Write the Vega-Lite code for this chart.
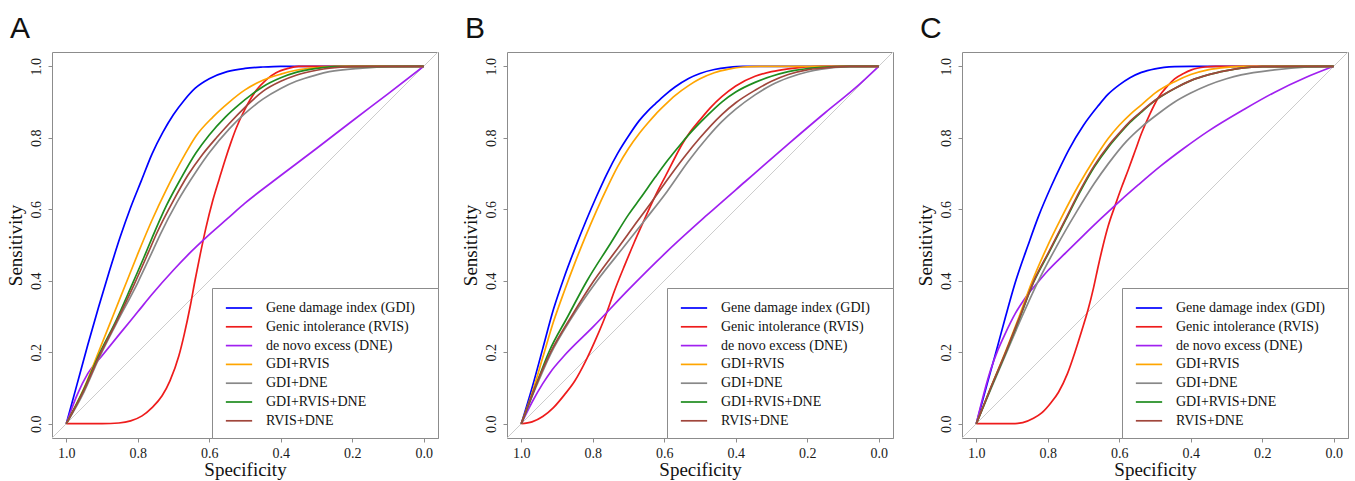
{
"$schema": "https://vega.github.io/schema/vega-lite/v6.json",
"padding": {"left": 5, "top": 13, "right": 5, "bottom": 0},
"background": "white",
"config": {
  "view": {"stroke": "#8c8c8c", "strokeWidth": 1},
  "axis": {"grid": false, "domain": false, "tickColor": "#8c8c8c", "tickSize": 4, "labelFont": "Liberation Serif", "labelFontSize": 14, "labelColor": "#1a1a1a", "titleFont": "Liberation Serif", "titleFontSize": 19, "titleFontWeight": "normal", "titleColor": "#111111"},
  "title": {"font": "Liberation Sans", "fontSize": 30, "fontWeight": "normal", "anchor": "start", "frame": "bounds", "baseline": "alphabetic", "offset": 6, "dx": 4, "color": "#111111"},
  "legend": {"orient": "bottom-right", "offset": 0, "padding": 10, "strokeColor": "#8c8c8c", "fillColor": "white", "symbolType": "M-1.46,0H1.46", "symbolSize": 324, "symbolStrokeWidth": 2.2, "symbolOffset": 7, "labelFont": "Liberation Serif", "labelFontSize": 14, "labelColor": "#111111", "labelOffset": 17, "rowPadding": 1.8, "labelLimit": 400, "titleOrient": "right", "titleOpacity": 0, "titlePadding": 9, "titleFontSize": 14, "titleFont": "Liberation Serif"},
  "concat": {"spacing": 19},
  "line": {"strokeWidth": 1.7}
},
"resolve": {"legend": {"color": "independent"}},
"datasets": {
  "diag": [{"x": 1.04, "y": -0.04}, {"x": -0.04, "y": 1.04}],
  "roc": [
{"p":"A","s":"GDI","x":1,"y":0},{"p":"A","s":"GDI","x":0.97,"y":0.11},{"p":"A","s":"GDI","x":0.94,"y":0.22},{"p":"A","s":"GDI","x":0.91,"y":0.325},{"p":"A","s":"GDI","x":0.88,"y":0.425},{"p":"A","s":"GDI","x":0.85,"y":0.52},{"p":"A","s":"GDI","x":0.82,"y":0.605},{"p":"A","s":"GDI","x":0.79,"y":0.68},{"p":"A","s":"GDI","x":0.76,"y":0.755},{"p":"A","s":"GDI","x":0.73,"y":0.815},{"p":"A","s":"GDI","x":0.7,"y":0.865},{"p":"A","s":"GDI","x":0.67,"y":0.905},{"p":"A","s":"GDI","x":0.64,"y":0.938},{"p":"A","s":"GDI","x":0.6,"y":0.965},{"p":"A","s":"GDI","x":0.55,"y":0.985},{"p":"A","s":"GDI","x":0.5,"y":0.994},{"p":"A","s":"GDI","x":0.45,"y":0.998},{"p":"A","s":"GDI","x":0.4,"y":1},{"p":"A","s":"GDI","x":0,"y":1},
{"p":"A","s":"RVIS","x":1,"y":0},{"p":"A","s":"RVIS","x":0.9,"y":0},{"p":"A","s":"RVIS","x":0.853,"y":0.002},{"p":"A","s":"RVIS","x":0.82,"y":0.008},{"p":"A","s":"RVIS","x":0.788,"y":0.022},{"p":"A","s":"RVIS","x":0.76,"y":0.045},{"p":"A","s":"RVIS","x":0.732,"y":0.078},{"p":"A","s":"RVIS","x":0.71,"y":0.12},{"p":"A","s":"RVIS","x":0.685,"y":0.19},{"p":"A","s":"RVIS","x":0.67,"y":0.25},{"p":"A","s":"RVIS","x":0.653,"y":0.33},{"p":"A","s":"RVIS","x":0.64,"y":0.4},{"p":"A","s":"RVIS","x":0.625,"y":0.475},{"p":"A","s":"RVIS","x":0.61,"y":0.545},{"p":"A","s":"RVIS","x":0.59,"y":0.625},{"p":"A","s":"RVIS","x":0.572,"y":0.685},{"p":"A","s":"RVIS","x":0.555,"y":0.74},{"p":"A","s":"RVIS","x":0.54,"y":0.785},{"p":"A","s":"RVIS","x":0.525,"y":0.826},{"p":"A","s":"RVIS","x":0.5,"y":0.88},{"p":"A","s":"RVIS","x":0.469,"y":0.932},{"p":"A","s":"RVIS","x":0.44,"y":0.963},{"p":"A","s":"RVIS","x":0.413,"y":0.982},{"p":"A","s":"RVIS","x":0.38,"y":0.994},{"p":"A","s":"RVIS","x":0.35,"y":1},{"p":"A","s":"RVIS","x":0,"y":1},
{"p":"A","s":"DNE","x":1,"y":0},{"p":"A","s":"DNE","x":0.97,"y":0.08},{"p":"A","s":"DNE","x":0.94,"y":0.14},{"p":"A","s":"DNE","x":0.9,"y":0.19},{"p":"A","s":"DNE","x":0.85,"y":0.252},{"p":"A","s":"DNE","x":0.8,"y":0.313},{"p":"A","s":"DNE","x":0.76,"y":0.362},{"p":"A","s":"DNE","x":0.7,"y":0.43},{"p":"A","s":"DNE","x":0.65,"y":0.482},{"p":"A","s":"DNE","x":0.61,"y":0.52},{"p":"A","s":"DNE","x":0.55,"y":0.573},{"p":"A","s":"DNE","x":0.5,"y":0.617},{"p":"A","s":"DNE","x":0.423,"y":0.677},{"p":"A","s":"DNE","x":0.3,"y":0.77},{"p":"A","s":"DNE","x":0.2,"y":0.847},{"p":"A","s":"DNE","x":0.1,"y":0.923},{"p":"A","s":"DNE","x":0,"y":1},
{"p":"A","s":"GDI+RVIS","x":1,"y":0},{"p":"A","s":"GDI+RVIS","x":0.95,"y":0.1},{"p":"A","s":"GDI+RVIS","x":0.91,"y":0.2},{"p":"A","s":"GDI+RVIS","x":0.87,"y":0.3},{"p":"A","s":"GDI+RVIS","x":0.83,"y":0.4},{"p":"A","s":"GDI+RVIS","x":0.8,"y":0.475},{"p":"A","s":"GDI+RVIS","x":0.76,"y":0.57},{"p":"A","s":"GDI+RVIS","x":0.72,"y":0.655},{"p":"A","s":"GDI+RVIS","x":0.67,"y":0.75},{"p":"A","s":"GDI+RVIS","x":0.637,"y":0.805},{"p":"A","s":"GDI+RVIS","x":0.59,"y":0.858},{"p":"A","s":"GDI+RVIS","x":0.544,"y":0.9},{"p":"A","s":"GDI+RVIS","x":0.5,"y":0.934},{"p":"A","s":"GDI+RVIS","x":0.45,"y":0.961},{"p":"A","s":"GDI+RVIS","x":0.4,"y":0.978},{"p":"A","s":"GDI+RVIS","x":0.357,"y":0.989},{"p":"A","s":"GDI+RVIS","x":0.3,"y":0.996},{"p":"A","s":"GDI+RVIS","x":0.22,"y":1},{"p":"A","s":"GDI+RVIS","x":0,"y":1},
{"p":"A","s":"GDI+DNE","x":1,"y":0},{"p":"A","s":"GDI+DNE","x":0.95,"y":0.09},{"p":"A","s":"GDI+DNE","x":0.91,"y":0.18},{"p":"A","s":"GDI+DNE","x":0.86,"y":0.28},{"p":"A","s":"GDI+DNE","x":0.8,"y":0.395},{"p":"A","s":"GDI+DNE","x":0.76,"y":0.48},{"p":"A","s":"GDI+DNE","x":0.737,"y":0.53},{"p":"A","s":"GDI+DNE","x":0.69,"y":0.62},{"p":"A","s":"GDI+DNE","x":0.637,"y":0.705},{"p":"A","s":"GDI+DNE","x":0.6,"y":0.758},{"p":"A","s":"GDI+DNE","x":0.544,"y":0.825},{"p":"A","s":"GDI+DNE","x":0.5,"y":0.868},{"p":"A","s":"GDI+DNE","x":0.45,"y":0.908},{"p":"A","s":"GDI+DNE","x":0.4,"y":0.938},{"p":"A","s":"GDI+DNE","x":0.357,"y":0.958},{"p":"A","s":"GDI+DNE","x":0.3,"y":0.976},{"p":"A","s":"GDI+DNE","x":0.264,"y":0.985},{"p":"A","s":"GDI+DNE","x":0.171,"y":0.995},{"p":"A","s":"GDI+DNE","x":0.1,"y":0.999},{"p":"A","s":"GDI+DNE","x":0,"y":1},
{"p":"A","s":"GDI+RVIS+DNE","x":1,"y":0},{"p":"A","s":"GDI+RVIS+DNE","x":0.95,"y":0.098},{"p":"A","s":"GDI+RVIS+DNE","x":0.91,"y":0.19},{"p":"A","s":"GDI+RVIS+DNE","x":0.86,"y":0.29},{"p":"A","s":"GDI+RVIS+DNE","x":0.82,"y":0.38},{"p":"A","s":"GDI+RVIS+DNE","x":0.783,"y":0.465},{"p":"A","s":"GDI+RVIS+DNE","x":0.76,"y":0.52},{"p":"A","s":"GDI+RVIS+DNE","x":0.72,"y":0.61},{"p":"A","s":"GDI+RVIS+DNE","x":0.68,"y":0.685},{"p":"A","s":"GDI+RVIS+DNE","x":0.637,"y":0.758},{"p":"A","s":"GDI+RVIS+DNE","x":0.6,"y":0.808},{"p":"A","s":"GDI+RVIS+DNE","x":0.555,"y":0.858},{"p":"A","s":"GDI+RVIS+DNE","x":0.52,"y":0.89},{"p":"A","s":"GDI+RVIS+DNE","x":0.48,"y":0.922},{"p":"A","s":"GDI+RVIS+DNE","x":0.45,"y":0.943},{"p":"A","s":"GDI+RVIS+DNE","x":0.4,"y":0.968},{"p":"A","s":"GDI+RVIS+DNE","x":0.357,"y":0.983},{"p":"A","s":"GDI+RVIS+DNE","x":0.3,"y":0.994},{"p":"A","s":"GDI+RVIS+DNE","x":0.25,"y":0.999},{"p":"A","s":"GDI+RVIS+DNE","x":0,"y":1},
{"p":"A","s":"RVIS+DNE","x":1,"y":0},{"p":"A","s":"RVIS+DNE","x":0.95,"y":0.095},{"p":"A","s":"RVIS+DNE","x":0.91,"y":0.185},{"p":"A","s":"RVIS+DNE","x":0.86,"y":0.285},{"p":"A","s":"RVIS+DNE","x":0.81,"y":0.39},{"p":"A","s":"RVIS+DNE","x":0.77,"y":0.48},{"p":"A","s":"RVIS+DNE","x":0.746,"y":0.535},{"p":"A","s":"RVIS+DNE","x":0.7,"y":0.625},{"p":"A","s":"RVIS+DNE","x":0.66,"y":0.695},{"p":"A","s":"RVIS+DNE","x":0.62,"y":0.752},{"p":"A","s":"RVIS+DNE","x":0.58,"y":0.8},{"p":"A","s":"RVIS+DNE","x":0.544,"y":0.84},{"p":"A","s":"RVIS+DNE","x":0.5,"y":0.885},{"p":"A","s":"RVIS+DNE","x":0.45,"y":0.93},{"p":"A","s":"RVIS+DNE","x":0.4,"y":0.958},{"p":"A","s":"RVIS+DNE","x":0.357,"y":0.975},{"p":"A","s":"RVIS+DNE","x":0.3,"y":0.989},{"p":"A","s":"RVIS+DNE","x":0.264,"y":0.995},{"p":"A","s":"RVIS+DNE","x":0.2,"y":0.999},{"p":"A","s":"RVIS+DNE","x":0,"y":1},

{"p":"B","s":"GDI","x":1,"y":0},{"p":"B","s":"GDI","x":0.97,"y":0.1},{"p":"B","s":"GDI","x":0.94,"y":0.21},{"p":"B","s":"GDI","x":0.91,"y":0.32},{"p":"B","s":"GDI","x":0.88,"y":0.41},{"p":"B","s":"GDI","x":0.85,"y":0.49},{"p":"B","s":"GDI","x":0.82,"y":0.565},{"p":"B","s":"GDI","x":0.79,"y":0.635},{"p":"B","s":"GDI","x":0.76,"y":0.7},{"p":"B","s":"GDI","x":0.73,"y":0.757},{"p":"B","s":"GDI","x":0.7,"y":0.805},{"p":"B","s":"GDI","x":0.67,"y":0.848},{"p":"B","s":"GDI","x":0.647,"y":0.874},{"p":"B","s":"GDI","x":0.625,"y":0.895},{"p":"B","s":"GDI","x":0.6,"y":0.918},{"p":"B","s":"GDI","x":0.57,"y":0.942},{"p":"B","s":"GDI","x":0.532,"y":0.966},{"p":"B","s":"GDI","x":0.5,"y":0.98},{"p":"B","s":"GDI","x":0.46,"y":0.991},{"p":"B","s":"GDI","x":0.42,"y":0.997},{"p":"B","s":"GDI","x":0.38,"y":1},{"p":"B","s":"GDI","x":0,"y":1},
{"p":"B","s":"RVIS","x":1,"y":0},{"p":"B","s":"RVIS","x":0.97,"y":0.005},{"p":"B","s":"RVIS","x":0.94,"y":0.02},{"p":"B","s":"RVIS","x":0.91,"y":0.045},{"p":"B","s":"RVIS","x":0.88,"y":0.08},{"p":"B","s":"RVIS","x":0.85,"y":0.12},{"p":"B","s":"RVIS","x":0.82,"y":0.175},{"p":"B","s":"RVIS","x":0.79,"y":0.24},{"p":"B","s":"RVIS","x":0.765,"y":0.3},{"p":"B","s":"RVIS","x":0.74,"y":0.37},{"p":"B","s":"RVIS","x":0.71,"y":0.445},{"p":"B","s":"RVIS","x":0.685,"y":0.505},{"p":"B","s":"RVIS","x":0.657,"y":0.568},{"p":"B","s":"RVIS","x":0.638,"y":0.61},{"p":"B","s":"RVIS","x":0.62,"y":0.648},{"p":"B","s":"RVIS","x":0.597,"y":0.692},{"p":"B","s":"RVIS","x":0.575,"y":0.735},{"p":"B","s":"RVIS","x":0.55,"y":0.782},{"p":"B","s":"RVIS","x":0.532,"y":0.81},{"p":"B","s":"RVIS","x":0.5,"y":0.85},{"p":"B","s":"RVIS","x":0.47,"y":0.885},{"p":"B","s":"RVIS","x":0.439,"y":0.915},{"p":"B","s":"RVIS","x":0.4,"y":0.945},{"p":"B","s":"RVIS","x":0.346,"y":0.972},{"p":"B","s":"RVIS","x":0.3,"y":0.985},{"p":"B","s":"RVIS","x":0.253,"y":0.993},{"p":"B","s":"RVIS","x":0.16,"y":1},{"p":"B","s":"RVIS","x":0,"y":1},
{"p":"B","s":"DNE","x":1,"y":0},{"p":"B","s":"DNE","x":0.97,"y":0.06},{"p":"B","s":"DNE","x":0.94,"y":0.112},{"p":"B","s":"DNE","x":0.918,"y":0.145},{"p":"B","s":"DNE","x":0.88,"y":0.19},{"p":"B","s":"DNE","x":0.8,"y":0.27},{"p":"B","s":"DNE","x":0.7,"y":0.375},{"p":"B","s":"DNE","x":0.592,"y":0.482},{"p":"B","s":"DNE","x":0.48,"y":0.584},{"p":"B","s":"DNE","x":0.374,"y":0.677},{"p":"B","s":"DNE","x":0.25,"y":0.785},{"p":"B","s":"DNE","x":0.15,"y":0.87},{"p":"B","s":"DNE","x":0.067,"y":0.938},{"p":"B","s":"DNE","x":0,"y":1},
{"p":"B","s":"GDI+RVIS","x":1,"y":0},{"p":"B","s":"GDI+RVIS","x":0.97,"y":0.085},{"p":"B","s":"GDI+RVIS","x":0.94,"y":0.185},{"p":"B","s":"GDI+RVIS","x":0.91,"y":0.285},{"p":"B","s":"GDI+RVIS","x":0.88,"y":0.37},{"p":"B","s":"GDI+RVIS","x":0.85,"y":0.45},{"p":"B","s":"GDI+RVIS","x":0.82,"y":0.525},{"p":"B","s":"GDI+RVIS","x":0.79,"y":0.595},{"p":"B","s":"GDI+RVIS","x":0.76,"y":0.66},{"p":"B","s":"GDI+RVIS","x":0.73,"y":0.72},{"p":"B","s":"GDI+RVIS","x":0.7,"y":0.77},{"p":"B","s":"GDI+RVIS","x":0.67,"y":0.812},{"p":"B","s":"GDI+RVIS","x":0.647,"y":0.84},{"p":"B","s":"GDI+RVIS","x":0.625,"y":0.865},{"p":"B","s":"GDI+RVIS","x":0.6,"y":0.89},{"p":"B","s":"GDI+RVIS","x":0.57,"y":0.918},{"p":"B","s":"GDI+RVIS","x":0.532,"y":0.946},{"p":"B","s":"GDI+RVIS","x":0.5,"y":0.965},{"p":"B","s":"GDI+RVIS","x":0.46,"y":0.982},{"p":"B","s":"GDI+RVIS","x":0.42,"y":0.992},{"p":"B","s":"GDI+RVIS","x":0.38,"y":0.998},{"p":"B","s":"GDI+RVIS","x":0.33,"y":1},{"p":"B","s":"GDI+RVIS","x":0,"y":1},
{"p":"B","s":"GDI+DNE","x":1,"y":0},{"p":"B","s":"GDI+DNE","x":0.96,"y":0.1},{"p":"B","s":"GDI+DNE","x":0.918,"y":0.195},{"p":"B","s":"GDI+DNE","x":0.86,"y":0.295},{"p":"B","s":"GDI+DNE","x":0.788,"y":0.4},{"p":"B","s":"GDI+DNE","x":0.713,"y":0.495},{"p":"B","s":"GDI+DNE","x":0.65,"y":0.575},{"p":"B","s":"GDI+DNE","x":0.592,"y":0.65},{"p":"B","s":"GDI+DNE","x":0.532,"y":0.735},{"p":"B","s":"GDI+DNE","x":0.48,"y":0.8},{"p":"B","s":"GDI+DNE","x":0.439,"y":0.845},{"p":"B","s":"GDI+DNE","x":0.4,"y":0.88},{"p":"B","s":"GDI+DNE","x":0.346,"y":0.92},{"p":"B","s":"GDI+DNE","x":0.3,"y":0.948},{"p":"B","s":"GDI+DNE","x":0.253,"y":0.968},{"p":"B","s":"GDI+DNE","x":0.2,"y":0.984},{"p":"B","s":"GDI+DNE","x":0.16,"y":0.992},{"p":"B","s":"GDI+DNE","x":0.08,"y":0.999},{"p":"B","s":"GDI+DNE","x":0,"y":1},
{"p":"B","s":"GDI+RVIS+DNE","x":1,"y":0},{"p":"B","s":"GDI+RVIS+DNE","x":0.96,"y":0.105},{"p":"B","s":"GDI+RVIS+DNE","x":0.923,"y":0.2},{"p":"B","s":"GDI+RVIS+DNE","x":0.87,"y":0.3},{"p":"B","s":"GDI+RVIS+DNE","x":0.816,"y":0.4},{"p":"B","s":"GDI+RVIS+DNE","x":0.75,"y":0.505},{"p":"B","s":"GDI+RVIS+DNE","x":0.7,"y":0.585},{"p":"B","s":"GDI+RVIS+DNE","x":0.666,"y":0.632},{"p":"B","s":"GDI+RVIS+DNE","x":0.625,"y":0.69},{"p":"B","s":"GDI+RVIS+DNE","x":0.592,"y":0.735},{"p":"B","s":"GDI+RVIS+DNE","x":0.55,"y":0.787},{"p":"B","s":"GDI+RVIS+DNE","x":0.532,"y":0.808},{"p":"B","s":"GDI+RVIS+DNE","x":0.48,"y":0.862},{"p":"B","s":"GDI+RVIS+DNE","x":0.439,"y":0.9},{"p":"B","s":"GDI+RVIS+DNE","x":0.4,"y":0.928},{"p":"B","s":"GDI+RVIS+DNE","x":0.346,"y":0.955},{"p":"B","s":"GDI+RVIS+DNE","x":0.3,"y":0.972},{"p":"B","s":"GDI+RVIS+DNE","x":0.253,"y":0.985},{"p":"B","s":"GDI+RVIS+DNE","x":0.16,"y":0.997},{"p":"B","s":"GDI+RVIS+DNE","x":0.08,"y":1},{"p":"B","s":"GDI+RVIS+DNE","x":0,"y":1},
{"p":"B","s":"RVIS+DNE","x":1,"y":0},{"p":"B","s":"RVIS+DNE","x":0.96,"y":0.105},{"p":"B","s":"RVIS+DNE","x":0.918,"y":0.2},{"p":"B","s":"RVIS+DNE","x":0.86,"y":0.3},{"p":"B","s":"RVIS+DNE","x":0.797,"y":0.4},{"p":"B","s":"RVIS+DNE","x":0.727,"y":0.495},{"p":"B","s":"RVIS+DNE","x":0.68,"y":0.56},{"p":"B","s":"RVIS+DNE","x":0.638,"y":0.617},{"p":"B","s":"RVIS+DNE","x":0.597,"y":0.675},{"p":"B","s":"RVIS+DNE","x":0.545,"y":0.745},{"p":"B","s":"RVIS+DNE","x":0.5,"y":0.8},{"p":"B","s":"RVIS+DNE","x":0.439,"y":0.865},{"p":"B","s":"RVIS+DNE","x":0.4,"y":0.898},{"p":"B","s":"RVIS+DNE","x":0.346,"y":0.933},{"p":"B","s":"RVIS+DNE","x":0.3,"y":0.958},{"p":"B","s":"RVIS+DNE","x":0.253,"y":0.977},{"p":"B","s":"RVIS+DNE","x":0.2,"y":0.99},{"p":"B","s":"RVIS+DNE","x":0.16,"y":0.995},{"p":"B","s":"RVIS+DNE","x":0.08,"y":1},{"p":"B","s":"RVIS+DNE","x":0,"y":1},

{"p":"C","s":"GDI","x":1,"y":0},{"p":"C","s":"GDI","x":0.97,"y":0.11},{"p":"C","s":"GDI","x":0.945,"y":0.2},{"p":"C","s":"GDI","x":0.918,"y":0.3},{"p":"C","s":"GDI","x":0.891,"y":0.395},{"p":"C","s":"GDI","x":0.855,"y":0.5},{"p":"C","s":"GDI","x":0.826,"y":0.58},{"p":"C","s":"GDI","x":0.79,"y":0.665},{"p":"C","s":"GDI","x":0.762,"y":0.725},{"p":"C","s":"GDI","x":0.742,"y":0.765},{"p":"C","s":"GDI","x":0.7,"y":0.835},{"p":"C","s":"GDI","x":0.66,"y":0.888},{"p":"C","s":"GDI","x":0.631,"y":0.922},{"p":"C","s":"GDI","x":0.6,"y":0.948},{"p":"C","s":"GDI","x":0.57,"y":0.968},{"p":"C","s":"GDI","x":0.538,"y":0.983},{"p":"C","s":"GDI","x":0.5,"y":0.993},{"p":"C","s":"GDI","x":0.445,"y":0.999},{"p":"C","s":"GDI","x":0.4,"y":1},{"p":"C","s":"GDI","x":0,"y":1},
{"p":"C","s":"RVIS","x":1,"y":0},{"p":"C","s":"RVIS","x":0.9,"y":0},{"p":"C","s":"RVIS","x":0.87,"y":0.003},{"p":"C","s":"RVIS","x":0.84,"y":0.015},{"p":"C","s":"RVIS","x":0.817,"y":0.03},{"p":"C","s":"RVIS","x":0.79,"y":0.06},{"p":"C","s":"RVIS","x":0.77,"y":0.088},{"p":"C","s":"RVIS","x":0.745,"y":0.14},{"p":"C","s":"RVIS","x":0.724,"y":0.2},{"p":"C","s":"RVIS","x":0.705,"y":0.26},{"p":"C","s":"RVIS","x":0.687,"y":0.32},{"p":"C","s":"RVIS","x":0.672,"y":0.38},{"p":"C","s":"RVIS","x":0.659,"y":0.44},{"p":"C","s":"RVIS","x":0.645,"y":0.5},{"p":"C","s":"RVIS","x":0.631,"y":0.553},{"p":"C","s":"RVIS","x":0.61,"y":0.615},{"p":"C","s":"RVIS","x":0.594,"y":0.66},{"p":"C","s":"RVIS","x":0.575,"y":0.71},{"p":"C","s":"RVIS","x":0.555,"y":0.765},{"p":"C","s":"RVIS","x":0.538,"y":0.812},{"p":"C","s":"RVIS","x":0.515,"y":0.865},{"p":"C","s":"RVIS","x":0.491,"y":0.912},{"p":"C","s":"RVIS","x":0.465,"y":0.945},{"p":"C","s":"RVIS","x":0.445,"y":0.965},{"p":"C","s":"RVIS","x":0.42,"y":0.98},{"p":"C","s":"RVIS","x":0.398,"y":0.99},{"p":"C","s":"RVIS","x":0.36,"y":0.998},{"p":"C","s":"RVIS","x":0.33,"y":1},{"p":"C","s":"RVIS","x":0,"y":1},
{"p":"C","s":"DNE","x":1,"y":0},{"p":"C","s":"DNE","x":0.98,"y":0.08},{"p":"C","s":"DNE","x":0.96,"y":0.15},{"p":"C","s":"DNE","x":0.94,"y":0.205},{"p":"C","s":"DNE","x":0.92,"y":0.25},{"p":"C","s":"DNE","x":0.89,"y":0.31},{"p":"C","s":"DNE","x":0.863,"y":0.352},{"p":"C","s":"DNE","x":0.83,"y":0.393},{"p":"C","s":"DNE","x":0.8,"y":0.428},{"p":"C","s":"DNE","x":0.75,"y":0.478},{"p":"C","s":"DNE","x":0.7,"y":0.527},{"p":"C","s":"DNE","x":0.65,"y":0.575},{"p":"C","s":"DNE","x":0.596,"y":0.625},{"p":"C","s":"DNE","x":0.547,"y":0.668},{"p":"C","s":"DNE","x":0.483,"y":0.722},{"p":"C","s":"DNE","x":0.42,"y":0.77},{"p":"C","s":"DNE","x":0.352,"y":0.818},{"p":"C","s":"DNE","x":0.25,"y":0.88},{"p":"C","s":"DNE","x":0.166,"y":0.927},{"p":"C","s":"DNE","x":0.08,"y":0.968},{"p":"C","s":"DNE","x":0,"y":1},
{"p":"C","s":"GDI+RVIS","x":1,"y":0},{"p":"C","s":"GDI+RVIS","x":0.96,"y":0.1},{"p":"C","s":"GDI+RVIS","x":0.919,"y":0.2},{"p":"C","s":"GDI+RVIS","x":0.88,"y":0.3},{"p":"C","s":"GDI+RVIS","x":0.845,"y":0.395},{"p":"C","s":"GDI+RVIS","x":0.804,"y":0.49},{"p":"C","s":"GDI+RVIS","x":0.76,"y":0.58},{"p":"C","s":"GDI+RVIS","x":0.715,"y":0.665},{"p":"C","s":"GDI+RVIS","x":0.67,"y":0.74},{"p":"C","s":"GDI+RVIS","x":0.631,"y":0.798},{"p":"C","s":"GDI+RVIS","x":0.6,"y":0.835},{"p":"C","s":"GDI+RVIS","x":0.57,"y":0.865},{"p":"C","s":"GDI+RVIS","x":0.538,"y":0.892},{"p":"C","s":"GDI+RVIS","x":0.5,"y":0.925},{"p":"C","s":"GDI+RVIS","x":0.445,"y":0.957},{"p":"C","s":"GDI+RVIS","x":0.4,"y":0.977},{"p":"C","s":"GDI+RVIS","x":0.352,"y":0.99},{"p":"C","s":"GDI+RVIS","x":0.3,"y":0.997},{"p":"C","s":"GDI+RVIS","x":0.25,"y":1},{"p":"C","s":"GDI+RVIS","x":0,"y":1},
{"p":"C","s":"GDI+DNE","x":1,"y":0},{"p":"C","s":"GDI+DNE","x":0.96,"y":0.095},{"p":"C","s":"GDI+DNE","x":0.915,"y":0.2},{"p":"C","s":"GDI+DNE","x":0.872,"y":0.3},{"p":"C","s":"GDI+DNE","x":0.831,"y":0.39},{"p":"C","s":"GDI+DNE","x":0.776,"y":0.495},{"p":"C","s":"GDI+DNE","x":0.72,"y":0.592},{"p":"C","s":"GDI+DNE","x":0.67,"y":0.672},{"p":"C","s":"GDI+DNE","x":0.631,"y":0.727},{"p":"C","s":"GDI+DNE","x":0.58,"y":0.79},{"p":"C","s":"GDI+DNE","x":0.538,"y":0.83},{"p":"C","s":"GDI+DNE","x":0.49,"y":0.868},{"p":"C","s":"GDI+DNE","x":0.445,"y":0.9},{"p":"C","s":"GDI+DNE","x":0.4,"y":0.925},{"p":"C","s":"GDI+DNE","x":0.352,"y":0.947},{"p":"C","s":"GDI+DNE","x":0.3,"y":0.965},{"p":"C","s":"GDI+DNE","x":0.259,"y":0.976},{"p":"C","s":"GDI+DNE","x":0.166,"y":0.99},{"p":"C","s":"GDI+DNE","x":0.073,"y":0.998},{"p":"C","s":"GDI+DNE","x":0,"y":1},
{"p":"C","s":"GDI+RVIS+DNE","x":1,"y":0},{"p":"C","s":"GDI+RVIS+DNE","x":0.96,"y":0.098},{"p":"C","s":"GDI+RVIS+DNE","x":0.917,"y":0.2},{"p":"C","s":"GDI+RVIS+DNE","x":0.877,"y":0.3},{"p":"C","s":"GDI+RVIS+DNE","x":0.84,"y":0.395},{"p":"C","s":"GDI+RVIS+DNE","x":0.795,"y":0.482},{"p":"C","s":"GDI+RVIS+DNE","x":0.75,"y":0.57},{"p":"C","s":"GDI+RVIS+DNE","x":0.71,"y":0.648},{"p":"C","s":"GDI+RVIS+DNE","x":0.67,"y":0.718},{"p":"C","s":"GDI+RVIS+DNE","x":0.631,"y":0.773},{"p":"C","s":"GDI+RVIS+DNE","x":0.6,"y":0.81},{"p":"C","s":"GDI+RVIS+DNE","x":0.57,"y":0.843},{"p":"C","s":"GDI+RVIS+DNE","x":0.538,"y":0.872},{"p":"C","s":"GDI+RVIS+DNE","x":0.5,"y":0.904},{"p":"C","s":"GDI+RVIS+DNE","x":0.445,"y":0.938},{"p":"C","s":"GDI+RVIS+DNE","x":0.4,"y":0.96},{"p":"C","s":"GDI+RVIS+DNE","x":0.352,"y":0.976},{"p":"C","s":"GDI+RVIS+DNE","x":0.3,"y":0.988},{"p":"C","s":"GDI+RVIS+DNE","x":0.259,"y":0.995},{"p":"C","s":"GDI+RVIS+DNE","x":0.2,"y":0.999},{"p":"C","s":"GDI+RVIS+DNE","x":0,"y":1},
{"p":"C","s":"RVIS+DNE","x":1,"y":0},{"p":"C","s":"RVIS+DNE","x":0.96,"y":0.1},{"p":"C","s":"RVIS+DNE","x":0.917,"y":0.202},{"p":"C","s":"RVIS+DNE","x":0.877,"y":0.302},{"p":"C","s":"RVIS+DNE","x":0.84,"y":0.397},{"p":"C","s":"RVIS+DNE","x":0.795,"y":0.485},{"p":"C","s":"RVIS+DNE","x":0.75,"y":0.573},{"p":"C","s":"RVIS+DNE","x":0.71,"y":0.652},{"p":"C","s":"RVIS+DNE","x":0.67,"y":0.722},{"p":"C","s":"RVIS+DNE","x":0.631,"y":0.777},{"p":"C","s":"RVIS+DNE","x":0.6,"y":0.813},{"p":"C","s":"RVIS+DNE","x":0.57,"y":0.846},{"p":"C","s":"RVIS+DNE","x":0.538,"y":0.874},{"p":"C","s":"RVIS+DNE","x":0.5,"y":0.905},{"p":"C","s":"RVIS+DNE","x":0.445,"y":0.938},{"p":"C","s":"RVIS+DNE","x":0.4,"y":0.96},{"p":"C","s":"RVIS+DNE","x":0.352,"y":0.976},{"p":"C","s":"RVIS+DNE","x":0.3,"y":0.988},{"p":"C","s":"RVIS+DNE","x":0.259,"y":0.995},{"p":"C","s":"RVIS+DNE","x":0.2,"y":0.999},{"p":"C","s":"RVIS+DNE","x":0,"y":1}
  ]
},
"hconcat": [
  {"title": "A", "width": 386, "height": 386,
   "layer": [
    {"data": {"name": "diag"}, "mark": {"type": "line", "color": "#cccccc", "strokeWidth": 1},
     "encoding": {
       "x": {"field": "x", "type": "quantitative", "title": "Specificity", "scale": {"domain": [-0.04, 1.04], "reverse": true, "nice": false, "zero": false}, "axis": {"values": [0, 0.2, 0.4, 0.6, 0.8, 1], "format": ".1f", "labelPadding": 4, "titlePadding": 0, "labelFlush": false}},
       "y": {"field": "y", "type": "quantitative", "title": "Sensitivity", "scale": {"domain": [-0.04, 1.04], "nice": false, "zero": false}, "axis": {"values": [0, 0.2, 0.4, 0.6, 0.8, 1], "format": ".1f", "labelAngle": -90, "labelAlign": "center", "labelBaseline": "alphabetic", "labelPadding": 8, "titlePadding": 4, "labelFlush": false}}
     }},
    {"data": {"name": "roc"}, "transform": [{"filter": "datum.p === 'A'"}],
     "mark": {"type": "line", "interpolate": "monotone", "strokeWidth": 1.7},
     "encoding": {
       "x": {"field": "x", "type": "quantitative"},
       "y": {"field": "y", "type": "quantitative"},
       "color": {"field": "s", "type": "nominal",
         "scale": {"domain": ["GDI", "RVIS", "DNE", "GDI+RVIS", "GDI+DNE", "GDI+RVIS+DNE", "RVIS+DNE"], "range": ["#0000ff", "#ee1c1c", "#a020f0", "#ffa500", "#888888", "#1e8c1e", "#a0463c"]},
         "legend": {"title": "|", "labelFont": "Liberation Serif", "labelFontSize": 14, "labelExpr": "datum.label == 'GDI' ? 'Gene damage index (GDI)' : datum.label == 'RVIS' ? 'Genic intolerance (RVIS)' : datum.label == 'DNE' ? 'de novo excess (DNE)' : datum.label"}}
     }}
   ]},
  {"title": "B", "width": 386, "height": 386,
   "layer": [
    {"data": {"name": "diag"}, "mark": {"type": "line", "color": "#cccccc", "strokeWidth": 1},
     "encoding": {
       "x": {"field": "x", "type": "quantitative", "title": "Specificity", "scale": {"domain": [-0.04, 1.04], "reverse": true, "nice": false, "zero": false}, "axis": {"values": [0, 0.2, 0.4, 0.6, 0.8, 1], "format": ".1f", "labelPadding": 4, "titlePadding": 0, "labelFlush": false}},
       "y": {"field": "y", "type": "quantitative", "title": "Sensitivity", "scale": {"domain": [-0.04, 1.04], "nice": false, "zero": false}, "axis": {"values": [0, 0.2, 0.4, 0.6, 0.8, 1], "format": ".1f", "labelAngle": -90, "labelAlign": "center", "labelBaseline": "alphabetic", "labelPadding": 8, "titlePadding": 4, "labelFlush": false}}
     }},
    {"data": {"name": "roc"}, "transform": [{"filter": "datum.p === 'B'"}],
     "mark": {"type": "line", "interpolate": "monotone", "strokeWidth": 1.7},
     "encoding": {
       "x": {"field": "x", "type": "quantitative"},
       "y": {"field": "y", "type": "quantitative"},
       "color": {"field": "s", "type": "nominal",
         "scale": {"domain": ["GDI", "RVIS", "DNE", "GDI+RVIS", "GDI+DNE", "GDI+RVIS+DNE", "RVIS+DNE"], "range": ["#0000ff", "#ee1c1c", "#a020f0", "#ffa500", "#888888", "#1e8c1e", "#a0463c"]},
         "legend": {"title": "|", "labelFont": "Liberation Serif", "labelFontSize": 14, "labelExpr": "datum.label == 'GDI' ? 'Gene damage index (GDI)' : datum.label == 'RVIS' ? 'Genic intolerance (RVIS)' : datum.label == 'DNE' ? 'de novo excess (DNE)' : datum.label"}}
     }}
   ]},
  {"title": "C", "width": 386, "height": 386,
   "layer": [
    {"data": {"name": "diag"}, "mark": {"type": "line", "color": "#cccccc", "strokeWidth": 1},
     "encoding": {
       "x": {"field": "x", "type": "quantitative", "title": "Specificity", "scale": {"domain": [-0.04, 1.04], "reverse": true, "nice": false, "zero": false}, "axis": {"values": [0, 0.2, 0.4, 0.6, 0.8, 1], "format": ".1f", "labelPadding": 4, "titlePadding": 0, "labelFlush": false}},
       "y": {"field": "y", "type": "quantitative", "title": "Sensitivity", "scale": {"domain": [-0.04, 1.04], "nice": false, "zero": false}, "axis": {"values": [0, 0.2, 0.4, 0.6, 0.8, 1], "format": ".1f", "labelAngle": -90, "labelAlign": "center", "labelBaseline": "alphabetic", "labelPadding": 8, "titlePadding": 4, "labelFlush": false}}
     }},
    {"data": {"name": "roc"}, "transform": [{"filter": "datum.p === 'C'"}],
     "mark": {"type": "line", "interpolate": "monotone", "strokeWidth": 1.7},
     "encoding": {
       "x": {"field": "x", "type": "quantitative"},
       "y": {"field": "y", "type": "quantitative"},
       "color": {"field": "s", "type": "nominal",
         "scale": {"domain": ["GDI", "RVIS", "DNE", "GDI+RVIS", "GDI+DNE", "GDI+RVIS+DNE", "RVIS+DNE"], "range": ["#0000ff", "#ee1c1c", "#a020f0", "#ffa500", "#888888", "#1e8c1e", "#a0463c"]},
         "legend": {"title": "|", "labelFont": "Liberation Serif", "labelFontSize": 14, "labelExpr": "datum.label == 'GDI' ? 'Gene damage index (GDI)' : datum.label == 'RVIS' ? 'Genic intolerance (RVIS)' : datum.label == 'DNE' ? 'de novo excess (DNE)' : datum.label"}}
     }}
   ]}
]
}
